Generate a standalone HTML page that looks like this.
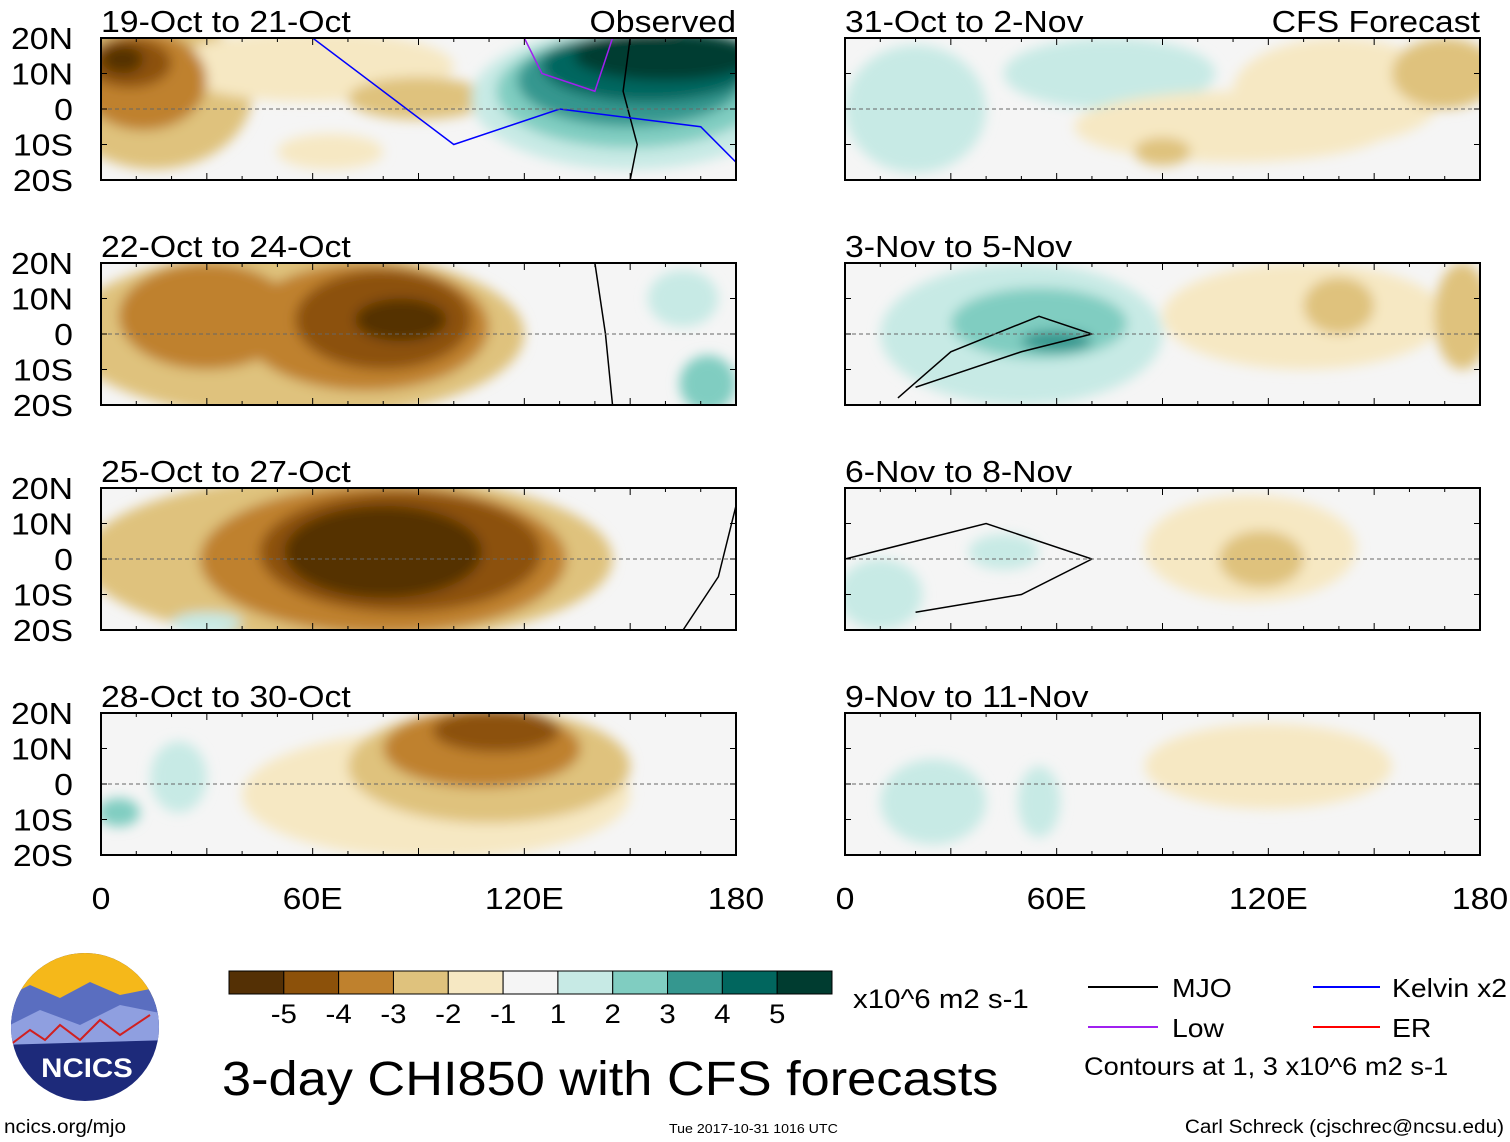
<!DOCTYPE html>
<html><head><meta charset="utf-8">
<style>
body{margin:0;background:#fff;width:1510px;height:1142px;overflow:hidden;font-family:"Liberation Sans",sans-serif;}
svg{display:block}
</style></head>
<body>
<svg id="chart" width="1510" height="1142" xmlns="http://www.w3.org/2000/svg">
<defs><filter id="blur" x="-20%" y="-20%" width="140%" height="140%"><feGaussianBlur stdDeviation="6"/></filter></defs>
<g id="panels"></g>
<g id="colorbar"></g>
<g id="legend">
 <line x1="1088" y1="987" x2="1158" y2="987" stroke="#000" stroke-width="2"/>
 <text x="1172" y="997" font-size="26">MJO</text>
 <line x1="1088" y1="1027" x2="1158" y2="1027" stroke="#a020f0" stroke-width="2"/>
 <text x="1172" y="1037" font-size="26">Low</text>
 <line x1="1313" y1="987" x2="1380" y2="987" stroke="#0000ff" stroke-width="2"/>
 <text x="1392" y="997" font-size="26">Kelvin x2</text>
 <line x1="1313" y1="1027" x2="1380" y2="1027" stroke="#ff0000" stroke-width="2"/>
 <text x="1392" y="1037" font-size="26">ER</text>
 <text x="1084" y="1075" font-size="25">Contours at 1, 3 x10^6 m2 s-1</text>
</g>
<text x="853" y="1008" font-size="27">x10^6 m2 s-1</text>
<text x="222" y="1095" font-size="48">3-day CHI850 with CFS forecasts</text>
<text x="4" y="1133" font-size="19">ncics.org/mjo</text>
<text x="669" y="1133" font-size="13">Tue 2017-10-31 1016 UTC</text>
<text x="1504" y="1133" font-size="19" text-anchor="end">Carl Schreck (cjschrec@ncsu.edu)</text>
<g>
 <clipPath id="lc"><circle cx="85" cy="1027" r="74"/></clipPath>
 <g clip-path="url(#lc)">
  <rect x="0" y="950" width="170" height="160" fill="#1d2a7a"/>
  <rect x="0" y="950" width="170" height="50" fill="#f5b81a"/>
  <path d="M0 1000 L30 985 L60 998 L90 982 L120 995 L170 985 L170 1020 L0 1030Z" fill="#5a6ec0"/>
  <path d="M0 1030 L40 1010 L80 1025 L120 1005 L170 1015 L170 1040 L0 1045Z" fill="#8f9fe0"/>
  <path d="M10 1045 L30 1030 L45 1040 L60 1025 L80 1040 L100 1020 L120 1035 L150 1015" fill="none" stroke="#d02020" stroke-width="2"/>
 </g>
 <text x="87" y="1077" font-size="27" font-weight="bold" fill="#fff" text-anchor="middle">NCICS</text>
</g>
</svg>
<script>
const levelColors=["#543005","#8c510a","#bf812d","#dfc27d","#f6e8c3","#f5f5f5","#c7eae5","#80cdc1","#35978f","#01665e","#003c30"];
const cbarLabels=["-5","-4","-3","-2","-1","1","2","3","4","5"];
const panelTitles=["19-Oct to 21-Oct","22-Oct to 24-Oct","25-Oct to 27-Oct","28-Oct to 30-Oct","31-Oct to 2-Nov","3-Nov to 5-Nov","6-Nov to 8-Nov","9-Nov to 11-Nov"];
const latTicks=["20N","10N","0","10S","20S"];
const latVals=[20,10,0,-10,-20];
const lonTicks=["0","60E","120E","180"];
const lonVals=[0,60,120,180];
// blobs: [lon, lat, lonRadius, latRadius, level(-5..5)]
const blobs0=[[15,5,28,22,-2],[60,12,40,10,-1],[90,3,20,6,-2],[65,-12,15,5,-1],[12,8,18,14,-3],[8,13,12,7,-4],[6,14,6,4,-5],
 [150,3,45,20,1],[150,5,38,16,2],[150,8,32,13,3],[155,12,30,10,4],[160,15,26,7,5]];
const blobs1=[[55,0,65,24,-2],[30,5,25,15,-3],[75,2,35,18,-3],[80,4,25,14,-4],[85,4,13,6,-5],[165,10,10,8,1],[172,-14,8,8,2]];
const blobs2=[[70,0,75,24,-2],[80,0,52,21,-3],[85,2,40,17,-4],[80,2,28,13,-5],[30,-18,10,3,1]];
const blobs3=[[95,-3,55,18,-1],[110,5,40,16,-2],[108,10,28,11,-3],[112,15,18,6,-4],[22,2,8,10,1],[5,-8,6,4,2]];
const blobs4=[[20,0,20,18,1],[75,10,30,10,1],[110,-5,45,10,-1],[140,5,30,15,-1],[170,10,15,10,-2],[90,-12,8,4,-2]];
const blobs5=[[50,0,40,20,1],[55,3,25,10,2],[60,-2,10,3,3],[130,5,40,15,-1],[140,8,10,8,-2],[175,5,8,15,-2]];
const blobs6=[[115,3,30,15,-1],[118,0,12,8,-2],[10,-10,12,10,1],[45,2,10,5,1]];
const blobs7=[[120,5,35,12,-1],[25,-5,15,12,1],[55,-5,6,10,1]];
const allBlobs=[blobs0,blobs1,blobs2,blobs3,blobs4,blobs5,blobs6,blobs7];
// MJO contour samples [lon,lat]
const mjo0=[[150,20],[148,5],[152,-10],[150,-20]];
const mjo1=[[140,20],[143,0],[145,-20]];
const mjo2=[[180,15],[175,-5],[165,-20]];
const mjo5=[[20,-15],[50,-5],[70,0],[55,5],[30,-5],[15,-18]];
const mjo6=[[0,0],[40,10],[70,0],[50,-10],[20,-15]];
const mjoLines={0:mjo0,1:mjo1,2:mjo2,5:mjo5,6:mjo6};
const kelvin0=[[60,20],[80,5],[100,-10],[130,0],[170,-5],[180,-15]];
const kelvinLines={0:kelvin0};
const low0=[[120,20],[125,10],[140,5],[145,20]];
const lowLines={0:low0};

const NS="http://www.w3.org/2000/svg";
const svg=document.getElementById('panels');
const PW=635,PH=142;
const colX=[101,845], rowY=[38,263,488,713];
function mk(t,a,p){const e=document.createElementNS(NS,t);for(const k in a)e.setAttribute(k,a[k]);(p||svg).appendChild(e);return e;}
allBlobs.forEach((bl,i)=>{
 const x0=colX[Math.floor(i/4)], y0=rowY[i%4];
 const xs=lon=>x0+lon/180*PW, ys=lat=>y0+(20-lat)/40*PH;
 const g=mk('g',{});
 
 
 const cid='clip'+i;
 const cp=mk('clipPath',{id:cid},g);mk('rect',{x:x0,y:y0,width:PW,height:PH},cp);
 const inner=mk('g',{'clip-path':'url(#'+cid+')'},g);
 mk('rect',{x:x0,y:y0,width:PW,height:PH,fill:'#f5f5f5'},inner);
 const bg=mk('g',{filter:'url(#blur)'},inner);
 bl.forEach(b=>{
  const e=mk('ellipse',{cx:xs(b[0]),cy:ys(b[1]),rx:b[2]/180*PW,ry:b[3]/40*PH,fill:levelColors[b[4]+5]},bg);
  
  
 });
 const drawLine=(pts,col,name)=>{const p=mk('polyline',{points:pts.map(q=>xs(q[0])+','+ys(q[1])).join(' '),fill:'none',stroke:col,'stroke-width':1.5},inner);
  };
 if(mjoLines[i])drawLine(mjoLines[i],'#000','mjo-contour');
 if(kelvinLines[i])drawLine(kelvinLines[i],'#0000ff','kelvin-contour');
 if(lowLines[i])drawLine(lowLines[i],'#a020f0','low-contour');
 mk('line',{x1:x0,y1:ys(0),x2:x0+PW,y2:ys(0),stroke:'#666','stroke-dasharray':'4,3','stroke-width':1},inner);
 mk('rect',{x:x0,y:y0,width:PW,height:PH,fill:'none',stroke:'#000','stroke-width':2},g);
 for(let l=0;l<=180;l+=10){mk('line',{x1:xs(l),y1:y0,x2:xs(l),y2:y0+(l%30?4:7),stroke:'#000'},g);mk('line',{x1:xs(l),y1:y0+PH,x2:xs(l),y2:y0+PH-(l%30?4:7),stroke:'#000'},g);}
 for(let la=-20;la<=20;la+=10){mk('line',{x1:x0,y1:ys(la),x2:x0+6,y2:ys(la),stroke:'#000'},g);mk('line',{x1:x0+PW,y1:ys(la),x2:x0+PW-6,y2:ys(la),stroke:'#000'},g);}
 const t=mk('text',{x:x0,y:y0-6,'font-size':31},g);t.textContent=panelTitles[i];
 
 if(i===0){const o=mk('text',{x:x0+PW,y:y0-6,'font-size':31,'text-anchor':'end'},g);o.textContent='Observed';}
 if(i===4){const o=mk('text',{x:x0+PW,y:y0-6,'font-size':31,'text-anchor':'end'},g);o.textContent='CFS Forecast';}
 if(i<4){latTicks.forEach((s,k)=>{const tt=mk('text',{x:73,y:ys(latVals[k])+11,'font-size':31,'text-anchor':'end'},g);tt.textContent=s;
  });}
 if(i%4===3){lonTicks.forEach((s,k)=>{const tt=mk('text',{x:xs(lonVals[k]),y:909,'font-size':31,'text-anchor':'middle'},g);tt.textContent=s;
  });}
});
const cb=document.getElementById('colorbar');


const cbx=229,cbw=603/levelColors.length;
levelColors.forEach((c,k)=>{const r=mk('rect',{x:cbx+k*cbw,y:971,width:cbw,height:23,fill:c,stroke:'#000','stroke-width':1},cb);
 });
cbarLabels.forEach((s,k)=>{const t=mk('text',{x:cbx+(k+1)*cbw,y:1023,'font-size':27,'text-anchor':'middle'},cb);t.textContent=s;
 });
// widen text to match the reference's wider sans face
document.querySelectorAll('#chart text').forEach(t=>{
 const w=t.getComputedTextLength();
 if(w>0){t.setAttribute('textLength',(w*1.09).toFixed(1));t.setAttribute('lengthAdjust','spacingAndGlyphs');}
});
</script>
</body></html>
